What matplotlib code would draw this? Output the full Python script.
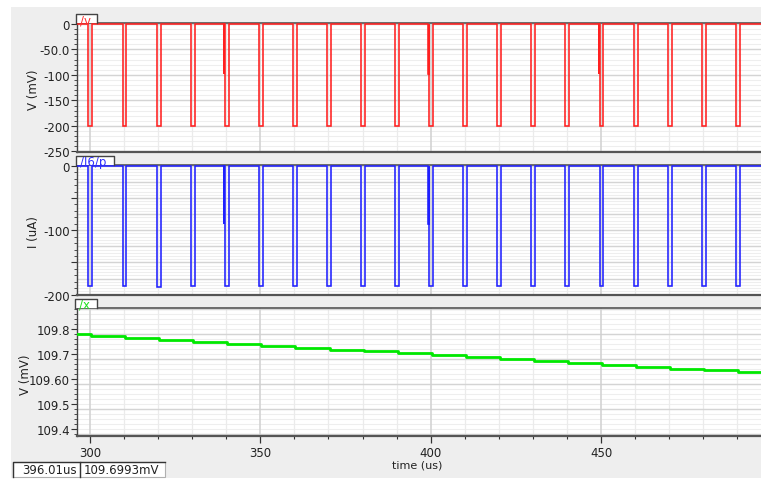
import numpy as np
import matplotlib
matplotlib.use("Agg")
import matplotlib.pyplot as plt
from matplotlib.ticker import MultipleLocator, FixedLocator, FixedFormatter
from matplotlib.patches import Rectangle
from matplotlib.lines import Line2D

plt.rcParams['font.family'] = ['DejaVu Sans']
plt.rcParams['axes.unicode_minus'] = False

# ---------------- data ----------------
pulse_times = [300, 310, 320, 330, 340, 350, 360, 370, 380, 390,
               400, 410, 420, 430, 440, 450, 460, 470, 480, 490]
v_low = [-201, -201, -201, -201, -201, -200, -200, -200, -200, -200,
         -200, -200, -200, -200, -200, -200, -200, -200, -200, -200]
i_low = [-187, -187, -188, -186, -186, -186, -186, -186, -186, -186,
         -186, -186, -186, -186, -186, -186, -186, -186, -186, -186]
v_spike_times = [340, 400, 450]
v_spike_vals = [-98, -98, -98]
i_spike_times = [340, 400]
i_spike_vals = [-91, -91]

x_start_level = 109.780
x_levels = [109.774, 109.765, 109.757, 109.749, 109.741, 109.732, 109.725,
            109.717, 109.711, 109.703, 109.695, 109.686, 109.680, 109.673,
            109.664, 109.656, 109.648, 109.640, 109.635, 109.627]

v_ticks = [0, -50, -100, -150, -200, -250]
v_ticklabels = ["0", "-50.0", "-100", "-150", "-200", "-250"]
i_ticks = [0, -50, -100, -150, -200]
i_ticklabels = ["0", "", "-100", "", "-200"]
x_ticks = [109.8, 109.7, 109.6, 109.5, 109.4]
x_ticklabels = ["109.8", "109.7", "109.60", "109.5", "109.4"]
t_ticks = [300, 350, 400, 450]
t_ticklabels = ["300", "350", "400", "450"]

t_min, t_max = 296.18, 496.95

# ---------------- helpers ----------------
W, H = 761, 481
def fx(px):
    return px / W
def fy(py):
    return 1 - py / H

def pulse_wave(times, lows, spike_t, spike_v):
    t = [t_min - 1]
    v = [0]
    sp = dict(zip(spike_t, spike_v))
    for T, lo in zip(times, lows):
        if T in sp:
            t += [T - 0.72, T - 0.72, T - 0.6, T - 0.6]
            v += [0, sp[T], sp[T], 0]
        t += [T - 0.45, T - 0.45, T + 0.7, T + 0.7]
        v += [0, lo, lo, 0]
    t.append(t_max + 1)
    v.append(0)
    return t, v

def stair(times, start, levels):
    t = [t_min - 1]
    v = [start]
    cur = start
    for T, lv in zip(times, levels):
        t += [T + 0.3, T + 0.3]
        v += [cur, lv]
        cur = lv
    t.append(t_max + 1)
    v.append(cur)
    return t, v

fig = plt.figure(figsize=(W / 100, H / 100), dpi=100, facecolor='white')

# gray window background
fig.patches.append(Rectangle((fx(11), fy(479)), fx(761) - fx(11), (479 - 8) / H,
                             transform=fig.transFigure, facecolor='#eeeeee',
                             edgecolor='none', zorder=-10))

TXT = '#222222'
FS = 8.5

def make_axes(ytop, ybot):
    ax = fig.add_axes([fx(77), fy(ybot), fx(761) - fx(77), (ybot - ytop) / H])
    ax.set_zorder(1)
    ax.set_facecolor('white')
    ax.set_xlim(t_min, t_max)
    ax.spines['right'].set_visible(False)
    ax.spines['left'].set_color('#444444')
    ax.spines['left'].set_linewidth(1.0)
    ax.spines['bottom'].set_color('#555555')
    ax.spines['bottom'].set_linewidth(1.6)
    ax.spines['top'].set_color('#555555')
    ax.spines['top'].set_linewidth(1.2)
    ax.tick_params(axis='y', which='major', direction='out', length=4, width=0.8,
                   color='#333333', labelsize=FS, labelcolor=TXT, pad=1)
    ax.tick_params(axis='y', which='minor', direction='out', length=2, width=0.6,
                   color='#333333')
    # vertical grid
    for tt in np.arange(300, 500, 10):
        major = (tt % 50 == 0)
        ax.axvline(tt, color='#d0d0d0' if major else '#ebebeb',
                   lw=1.1 if major else 0.9, zorder=0.5 if major else 0.3)
    return ax

def hgrid(ax, lo, hi, light_step, mid_step):
    for yy in np.arange(lo, hi + 1e-9, light_step):
        ax.axhline(yy, color='#eeeeee', lw=0.8, zorder=0.2)
    for yy in np.arange(lo, hi + 1e-9, mid_step):
        ax.axhline(yy, color='#d4d4d4', lw=1.0, zorder=0.4)

# ---- top panel: /v ----
ax1 = make_axes(24, 153)
ax1.set_ylim(-251, 1.5)
hgrid(ax1, -250, 0, 10, 50)
ax1.yaxis.set_major_locator(FixedLocator(v_ticks))
ax1.yaxis.set_major_formatter(FixedFormatter(v_ticklabels))
ax1.yaxis.set_minor_locator(MultipleLocator(10))
ax1.tick_params(axis='x', which='both', bottom=False, labelbottom=False)
tv, vv = pulse_wave(pulse_times, v_low, v_spike_times, v_spike_vals)
ax1.plot(tv, vv, color='#ff2020', lw=1.15, zorder=3, solid_joinstyle='miter')

# ---- middle panel: /I6/p ----
ax2 = make_axes(166, 296)
ax2.set_ylim(-200.5, 1.1)
hgrid(ax2, -200, 0, 5, 25)
ax2.yaxis.set_major_locator(FixedLocator(i_ticks))
ax2.yaxis.set_major_formatter(FixedFormatter(i_ticklabels))
ax2.yaxis.set_minor_locator(MultipleLocator(10))
ax2.tick_params(axis='x', which='both', bottom=False, labelbottom=False)
ti, iv = pulse_wave(pulse_times, i_low, i_spike_times, i_spike_vals)
ax2.plot(ti, iv, color='#2020ff', lw=1.15, zorder=3, solid_joinstyle='miter')

# ---- bottom panel: /x ----
ax3 = make_axes(309, 437)
ax3.set_ylim(109.372, 109.884)
hgrid(ax3, 109.38, 109.88, 0.02, 0.1)
ax3.yaxis.set_major_locator(FixedLocator(x_ticks))
ax3.yaxis.set_major_formatter(FixedFormatter(x_ticklabels))
ax3.yaxis.set_minor_locator(MultipleLocator(0.02))
ax3.xaxis.set_major_locator(FixedLocator(t_ticks))
ax3.xaxis.set_major_formatter(FixedFormatter(t_ticklabels))
ax3.xaxis.set_minor_locator(MultipleLocator(10))
ax3.tick_params(axis='x', which='major', direction='out', length=5, width=0.9,
                color='#333333', labelsize=FS, labelcolor=TXT, pad=2)
ax3.tick_params(axis='x', which='minor', direction='out', length=2.5, width=0.8,
                color='#333333')
tx, xv = stair(pulse_times, x_start_level, x_levels)
ax3.plot(tx, xv, color='#00e800', lw=2.0, zorder=3)

# ---- axis titles ----
fig.text(fx(33), fy(90), "V (mV)", rotation=90, ha='center', va='center',
         fontsize=FS, color=TXT, zorder=2)
fig.text(fx(34), fy(232), "I (uA)", rotation=90, ha='center', va='center',
         fontsize=FS, color=TXT, zorder=2)
fig.text(fx(26), fy(375), "V (mV)", rotation=90, ha='center', va='center',
         fontsize=FS, color=TXT, zorder=2)
fig.text(fx(417), fy(466), "time (us)", ha='center', va='center',
         fontsize=8, color=TXT, zorder=2)

# ---- trace tabs ----
def tab(x0, x1, y0, y1, label, color):
    fig.patches.append(Rectangle((fx(x0), fy(y1)), fx(x1) - fx(x0), (y1 - y0) / H,
                                 transform=fig.transFigure, facecolor='white',
                                 edgecolor='none', zorder=5))
    fig.lines.append(Line2D([fx(x0), fx(x0), fx(x1), fx(x1)],
                            [fy(y1), fy(y0), fy(y0), fy(y1)],
                            transform=fig.transFigure, color='#444444', lw=1.0,
                            zorder=6))
    fig.text(fx(x0 + 4), fy((y0 + y1) / 2 + 1), label, ha='left', va='center',
             fontsize=8.5, color=color, zorder=7)

tab(76, 97, 15, 24, "/v", '#ff3030')
tab(76, 114, 157, 166, "/I6/p", '#3030ff')
tab(75, 97, 300, 309, "/x", '#20e020')

# ---- status bar ----
def sbox(x0, x1, y0, y1, text, ha, xt):
    fig.patches.append(Rectangle((fx(x0), fy(y1)), fx(x1) - fx(x0), (y1 - y0) / H,
                                 transform=fig.transFigure, facecolor='white',
                                 edgecolor='#b0b0b0', lw=0.8, zorder=5))
    fig.lines.append(Line2D([fx(x0), fx(x0), fx(x1)], [fy(y1), fy(y0), fy(y0)],
                            transform=fig.transFigure, color='#333333', lw=1.0,
                            zorder=6))
    fig.text(fx(xt), fy((y0 + y1) / 2 + 0.5), text, ha=ha, va='center',
             fontsize=FS, color=TXT, zorder=7)

sbox(13, 80, 463, 478, "396.01us", 'right', 77)
sbox(80, 165, 463, 478, "109.6993mV", 'left', 84)

fig.savefig("out.png", dpi=100, facecolor=fig.get_facecolor())
